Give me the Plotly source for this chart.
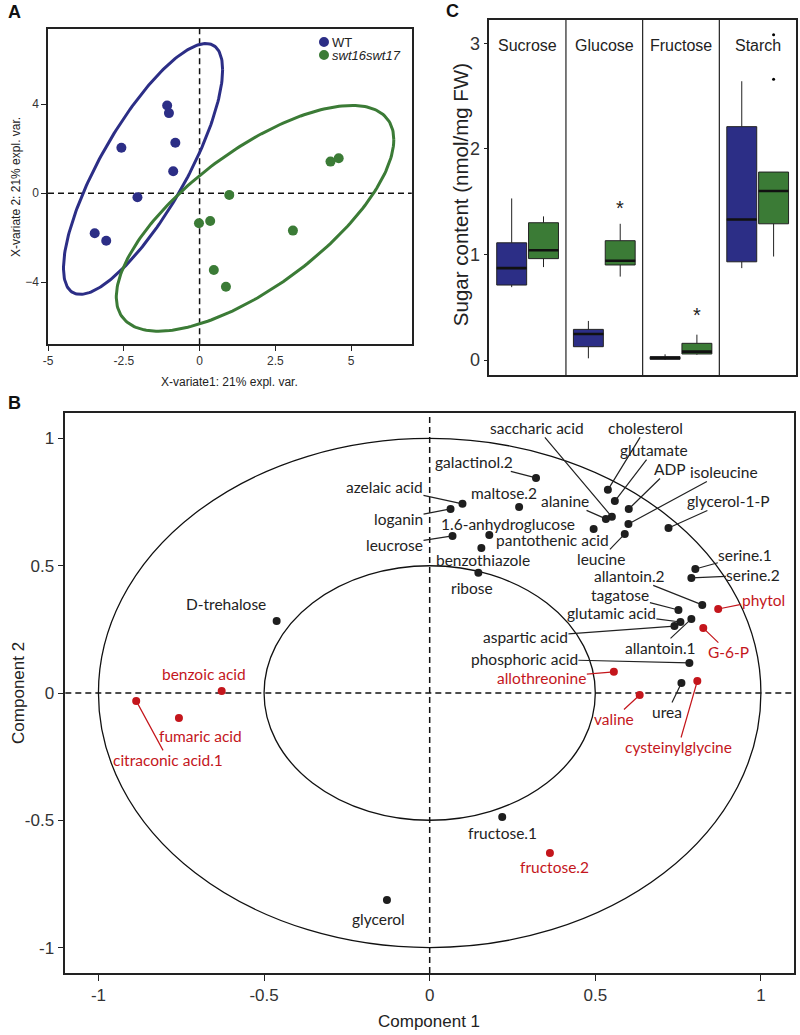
import numpy as np
import plotly.graph_objects as go

# ---------------- Panel A data (sPLS-DA scores) ----------------
wt_x = [-1.07, -1.01, -0.80, -2.58, -0.87, -2.05, -3.46, -3.08]
wt_y = [3.94, 3.60, 2.27, 2.04, 0.99, -0.18, -1.80, -2.14]
mut_x = [0.98, -0.02, 0.35, 3.08, 0.47, 0.87, 4.32, 4.59]
mut_y = [-0.08, -1.35, -1.25, -1.68, -3.45, -4.20, 1.42, 1.57]
a_xticks = [-5, -2.5, 0, 2.5, 5]
a_yticks = [-4, 0, 4]

# ---------------- Panel C data (box statistics) ----------------
sugars = ["Sucrose", "Glucose", "Fructose", "Starch"]
wt_low = [0.69, 0.016, 0.0, 0.87]
wt_q1 = [0.71, 0.126, 0.007, 0.93]
wt_med = [0.87, 0.246, 0.02, 1.33]
wt_q3 = [1.11, 0.29, 0.031, 2.21]
wt_high = [1.53, 0.37, 0.054, 2.64]
mut_low = [0.88, 0.79, 0.05, 0.98]
mut_q1 = [0.96, 0.90, 0.057, 1.29]
mut_med = [1.04, 0.94, 0.079, 1.60]
mut_q3 = [1.30, 1.13, 0.158, 1.78]
mut_high = [1.36, 1.29, 0.24, 1.78]
starch_mut_outliers = [2.66, 3.08]
signif_sugars = ["Glucose", "Fructose"]
signif_y = [1.44, 0.43]
c_yticks = [0, 1, 2, 3]

# ---------------- Panel B data (correlation circle) ----------------
names = ["saccharic acid", "cholesterol", "glutamate", "ADP", "isoleucine", "alanine",
         "glycerol-1-P", "leucine", "pantothenic acid", "1.6-anhydroglucose", "galactinol.2",
         "azelaic acid", "loganin", "maltose.2", "leucrose", "benzothiazole", "ribose",
         "D-trehalose", "serine.1", "serine.2", "allantoin.2", "tagatose", "glutamic acid",
         "aspartic acid", "allantoin.1", "phytol", "G-6-P", "phosphoric acid", "allothreonine",
         "urea", "cysteinylglycine", "valine", "benzoic acid", "fumaric acid",
         "citraconic acid.1", "glycerol", "fructose.1", "fructose.2"]
comp1 = [0.550, 0.538, 0.559, 0.601, 0.600, 0.532, 0.721, 0.589, 0.495, 0.180, 0.321,
         0.099, 0.063, 0.270, 0.069, 0.156, 0.147, -0.462, 0.802, 0.790, 0.823, 0.751,
         0.757, 0.739, 0.790, 0.871, 0.826, 0.784, 0.556, 0.760, 0.808, 0.634, -0.628,
         -0.757, -0.886, -0.129, 0.219, 0.363]
comp2 = [0.692, 0.798, 0.754, 0.723, 0.664, 0.684, 0.648, 0.625, 0.644, 0.621, 0.845,
         0.743, 0.723, 0.731, 0.617, 0.570, 0.472, 0.283, 0.487, 0.452, 0.346, 0.326,
         0.279, 0.263, 0.291, 0.330, 0.255, 0.118, 0.083, 0.039, 0.047, -0.008, 0.008,
         -0.098, -0.031, -0.813, -0.487, -0.629]
highlight = ["phytol", "G-6-P", "allothreonine", "cysteinylglycine", "valine",
             "benzoic acid", "fumaric acid", "citraconic acid.1", "fructose.2"]
b_ticks = [-1, -0.5, 0, 0.5, 1]
b_ticktext = ["-1", "-0.5", "0", "0.5", "1"]

# label placement (pixel offsets of label centre from its point) and leader-line flags
label_dx = [-75, 38, 39, 41, 96, -41, 60, -24, -41, 19, -62, -78, -52, -15, -58, 2, -6,
            -51, 50, 62, -73, -58, -69, -149, -31, 45, 25, -165, -72, -14, -19, -26,
            -18, 22, 32, -8, 0, 5]
label_dy = [-89, -62, -51, -40, -52, -18, -27, 25, 11, -11, -16, -17, 10, -14, 9, 12, 15,
            -17, -14, -3, -29, -15, -9, 11, 29, -9, 24, -4, 6, 29, 66, 24,
            -17, 18, 59, 19, 16, 14]
leader = [1, 1, 1, 1, 1, 1, 1, 1, 0, 0, 1, 1, 1, 0, 1, 0, 0,
          0, 1, 1, 1, 1, 1, 1, 1, 1, 1, 1, 1, 1, 1, 1,
          0, 0, 1, 0, 0, 0]

BLUE = "#2c2e86"
GREEN = "#3b7b36"
RED = "#c4161c"
DARK = "#1e1e1e"
AX_FONT = "Liberation Sans, Arial, sans-serif"
LBL_FONT = "Lato, Noto Sans, sans-serif"
W, H = 800, 1035


def conf_ellipse(xs, ys, n=240):
    pts = np.vstack([xs, ys])
    c = pts.mean(axis=1)
    L = np.linalg.cholesky(np.cov(pts))
    t = np.sqrt(-2.0 * np.log(0.05))  # 95% level, 2 d.f.
    a = np.linspace(0, 2 * np.pi, n)
    e = c[:, None] + t * (L @ np.vstack([np.cos(a), np.sin(a)]))
    return e[0], e[1]


fig = go.Figure()

# ---- Panel A ----
for xs, ys, col in [(wt_x, wt_y, BLUE), (mut_x, mut_y, GREEN)]:
    ex, ey = conf_ellipse(xs, ys)
    fig.add_trace(go.Scatter(x=ex, y=ey, mode="lines", line=dict(color=col, width=3),
                             xaxis="x", yaxis="y", showlegend=False, hoverinfo="skip"))
for xs, ys, col in [(wt_x, wt_y, BLUE), (mut_x, mut_y, GREEN)]:
    fig.add_trace(go.Scatter(x=xs, y=ys, mode="markers", marker=dict(color=col, size=10),
                             xaxis="x", yaxis="y", showlegend=False))

# ---- Panel B ----
is_red = [n in highlight for n in names]
fig.add_trace(go.Scatter(x=comp1, y=comp2, mode="markers",
                         marker=dict(color=[RED if r else DARK for r in is_red], size=8),
                         xaxis="x2", yaxis="y2", showlegend=False, text=names))

# ---- Panel C ----
common = dict(xaxis="x3", yaxis="y3", boxpoints=False, whiskerwidth=0, showlegend=False)
fig.add_trace(go.Box(x=sugars, q1=wt_q1, median=wt_med, q3=wt_q3, lowerfence=wt_low,
                     upperfence=wt_high, fillcolor=BLUE, line=dict(color="#222", width=1),
                     offsetgroup="wt", **common))
fig.add_trace(go.Box(x=sugars, q1=mut_q1, median=mut_med, q3=mut_q3, lowerfence=mut_low,
                     upperfence=mut_high, fillcolor=GREEN, line=dict(color="#222", width=1),
                     offsetgroup="mut", **common))
# thicker median bars
fig.add_trace(go.Box(x=sugars, q1=wt_med, median=wt_med, q3=wt_med, lowerfence=wt_med,
                     upperfence=wt_med, fillcolor="rgba(0,0,0,0)", line=dict(color="#111", width=2.6),
                     offsetgroup="wt", **common))
fig.add_trace(go.Box(x=sugars, q1=mut_med, median=mut_med, q3=mut_med, lowerfence=mut_med,
                     upperfence=mut_med, fillcolor="rgba(0,0,0,0)", line=dict(color="#111", width=2.6),
                     offsetgroup="mut", **common))
fig.add_trace(go.Box(x=["Starch"] * len(starch_mut_outliers), y=starch_mut_outliers,
                     boxpoints="all", jitter=0, pointpos=0, offsetgroup="mut",
                     marker=dict(color="black", size=3), line=dict(width=0),
                     fillcolor="rgba(0,0,0,0)", xaxis="x3", yaxis="y3", showlegend=False))

shapes = []
annotations = []

# dashed reference lines
dash = dict(color="#111", width=1.5, dash="6px,4px")
shapes += [
    dict(type="line", xref="x", yref="y domain", x0=0, x1=0, y0=0, y1=1, line=dash, layer="below"),
    dict(type="line", xref="x domain", yref="y", x0=0, x1=1, y0=0, y1=0, line=dash, layer="below"),
    dict(type="line", xref="x2", yref="y2 domain", x0=0, x1=0, y0=0, y1=1, line=dash, layer="below"),
    dict(type="line", xref="x2 domain", yref="y2", x0=0, x1=1, y0=0, y1=0, line=dash, layer="below"),
]
# correlation circles
for r in (1.0, 0.5):
    shapes.append(dict(type="circle", xref="x2", yref="y2", x0=-r, x1=r, y0=-r, y1=r,
                       line=dict(color="#111", width=1.3), layer="below"))
# facet dividers in panel C
for b in (0.5, 1.5, 2.5):
    shapes.append(dict(type="line", xref="x3", yref="y3 domain", x0=b, x1=b, y0=0, y1=1,
                       line=dict(color="#222", width=1.2)))

# legend for panel A
leg = [("WT", BLUE, 42, False), ("swt16swt17", GREEN, 55, True)]
for txt, col, py, ital in leg:
    yy = 1 - py / H
    shapes.append(dict(type="circle", xref="paper", yref="paper", xsizemode="pixel",
                       ysizemode="pixel", xanchor=321 / W, yanchor=yy, x0=-5, x1=5, y0=-5, y1=5,
                       fillcolor=col, line=dict(width=0)))
    annotations.append(dict(xref="paper", yref="paper", x=327 / W, y=yy, xanchor="left",
                            yanchor="middle", showarrow=False,
                            text=f"<i>{txt}</i>" if ital else txt,
                            font=dict(family=AX_FONT, size=13, color="#222")))

# metabolite labels in panel B
for n, x, y, dx, dy, ln, red in zip(names, comp1, comp2, label_dx, label_dy, leader, is_red):
    col = RED if red else "#222"
    if ln:
        annotations.append(dict(xref="x2", yref="y2", x=x, y=y, ax=dx, ay=dy, text=n,
                                showarrow=True, arrowhead=0, arrowwidth=1.2, arrowcolor=col,
                                standoff=0, xanchor="center", yanchor="middle", borderpad=0,
                                font=dict(family=LBL_FONT, size=15.5, color=col)))
    else:
        annotations.append(dict(xref="x2", yref="y2", x=x, y=y, xshift=dx, yshift=-dy, text=n,
                                showarrow=False, xanchor="center", yanchor="middle", borderpad=0,
                                font=dict(family=LBL_FONT, size=15.5, color=col)))

# facet titles and significance stars in panel C
for s in sugars:
    annotations.append(dict(xref="x3", yref="y3", x=s, y=2.98, text=s, showarrow=False,
                            xanchor="center", yanchor="middle",
                            font=dict(family=AX_FONT, size=16, color="#222")))
for s, yv in zip(signif_sugars, signif_y):
    annotations.append(dict(xref="x3", yref="y3", x=s, y=yv, xshift=16, text="*",
                            showarrow=False, xanchor="center", yanchor="middle",
                            font=dict(family=AX_FONT, size=20, color="#222")))

# axis titles
titles = [
    ("X-variate1: 21% expl. var.", 226, 382, 0, 12),
    ("X-variate 2: 21% expl. var.", 11, 187, -90, 12),
    ("Component 1", 427, 1021, 0, 17),
    ("Component 2", 13, 693, -90, 17),
    ("Sugar content (nmol/mg FW)", 459, 195, -90, 20.5),
]
for txt, px, py, ang, fs in titles:
    annotations.append(dict(xref="paper", yref="paper", x=px / W, y=1 - py / H, text=txt,
                            textangle=ang, showarrow=False, xanchor="center", yanchor="middle",
                            font=dict(family=AX_FONT, size=fs, color="#222")))
# panel letters
for letter, px, py in [("A", 10, 12), ("B", 10, 403), ("C", 450, 11)]:
    annotations.append(dict(xref="paper", yref="paper", x=px / W, y=1 - py / H, text=f"<b>{letter}</b>",
                            showarrow=False, xanchor="center", yanchor="middle",
                            font=dict(family=AX_FONT, size=18, color="#111")))

axis_common = dict(showline=True, mirror=True, linecolor="#222", linewidth=1.5, ticks="outside",
                   tickcolor="#222", showgrid=False, zeroline=False)

fig.update_layout(
    width=W, height=H, margin=dict(l=0, r=0, t=0, b=0),
    paper_bgcolor="white", plot_bgcolor="white", showlegend=False,
    boxmode="group", boxgap=0.17, boxgroupgap=0.06,
    xaxis=dict(domain=[43.3 / W, 409.3 / W], range=[-5, 7], tickvals=a_xticks,
               ticktext=["-5", "-2.5", "0", "2.5", "5"], ticklen=5, anchor="y",
               tickfont=dict(family=AX_FONT, size=12, color="#333"), **axis_common),
    yaxis=dict(domain=[1 - 344.3 / H, 1 - 29 / H], range=[-6.79, 7.38], tickvals=a_yticks,
               ticklen=5, anchor="x", tickfont=dict(family=AX_FONT, size=12, color="#333"),
               **axis_common),
    xaxis2=dict(domain=[60.7 / W, 794 / W], range=[-1.1, 1.1], tickvals=b_ticks,
                ticktext=b_ticktext, ticklen=6, anchor="y2",
                tickfont=dict(family=AX_FONT, size=17, color="#333"), **axis_common),
    yaxis2=dict(domain=[1 - 973 / H, 1 - 413 / H], range=[-1.1, 1.1], tickvals=b_ticks,
                ticktext=b_ticktext, ticklen=6, anchor="x2",
                tickfont=dict(family=AX_FONT, size=17, color="#333"), **axis_common),
    xaxis3=dict(domain=[487.3 / W, 796 / W], range=[-0.5, 3.5], type="category",
                categoryorder="array", categoryarray=sugars, showticklabels=False,
                anchor="y3", showline=True, mirror=True, linecolor="#222", linewidth=1.5,
                ticks="", showgrid=False, zeroline=False),
    yaxis3=dict(domain=[1 - 375 / H, 1 - 20 / H], range=[-0.142, 3.22], tickvals=c_yticks,
                ticklen=4, anchor="x3", tickfont=dict(family=AX_FONT, size=18, color="#333"),
                **axis_common),
    shapes=shapes, annotations=annotations,
)

fig.write_html("out.html", config={"displayModeBar": False},
               post_script="document.body.style.margin='0px';")
